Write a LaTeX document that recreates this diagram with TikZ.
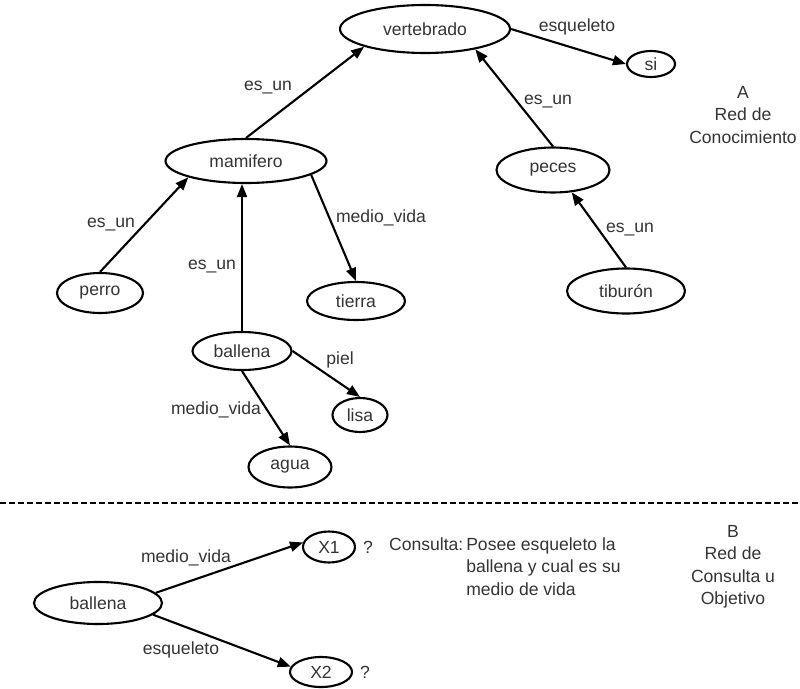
\documentclass[tikz,border=0pt]{standalone}
\usepackage{fontspec}
\setmainfont{Liberation Sans}
\usetikzlibrary{shapes.geometric, arrows.meta}

\begin{document}
\begin{tikzpicture}[
    concepto/.style={ellipse, draw, line width=1.2pt, inner sep=0pt,
                     text=black!80, font=\fontsize{10}{12.8}\selectfont},
    etiq/.style={inner sep=1pt, text=black!80, font=\fontsize{10}{12.8}\selectfont},
    arr/.style={-{Triangle[length=2.6mm, width=2mm]}, line width=1.2pt}
]
    \useasboundingbox (0, 0) rectangle (16, 13.76);

    % A: red de conocimiento
    \node[concepto, minimum width=3.4cm,  minimum height=0.96cm] (vertebrado) at (8.50, 13.18) {vertebrado};
    \node[concepto, minimum width=0.96cm, minimum height=0.52cm] (si)         at (13.02, 12.48) {si};
    \node[concepto, minimum width=3.22cm, minimum height=0.88cm] (mamifero)   at (4.92, 10.54) {mamifero};
    \node[concepto, minimum width=2.26cm, minimum height=0.9cm]  (peces)      at (11.06, 10.36) {peces};
    \node[concepto, minimum width=1.72cm, minimum height=0.8cm]  (perro)      at (2.00, 7.90) {perro};
    \node[concepto, minimum width=1.96cm, minimum height=0.76cm] (tierra)     at (7.12, 7.74) {tierra};
    \node[concepto, minimum width=2.36cm, minimum height=0.9cm]  (tiburon)    at (12.52, 7.94) {tiburón};
    \node[concepto, minimum width=1.98cm, minimum height=0.76cm] (ballena)    at (4.84, 6.74) {ballena};
    \node[concepto, minimum width=1.1cm,  minimum height=0.68cm] (lisa)       at (7.20, 5.46) {lisa};
    \node[concepto, minimum width=1.66cm, minimum height=0.82cm] (agua)       at (5.80, 4.42) {agua};

    \draw[arr] (mamifero.north)  -- (vertebrado.south west);
    \draw[arr] (vertebrado.east) -- (si.west);
    \draw[arr] (peces.north)     -- (vertebrado.-22);
    \draw[arr] (perro.north)     -- (mamifero.south west);
    \draw[arr] (ballena.north)   -- (ballena.north |- mamifero.south);
    \draw[arr] (mamifero.-12)    -- (tierra.north);
    \draw[arr] (tiburon.north)   -- (peces.-50);
    \draw[arr] (ballena.east)    -- (lisa.north);
    \draw[arr] (ballena.south)   -- (agua.north);

    \node[etiq] (l_vert)  at (5.36, 12.00) {es\_un};
    \node[etiq] (l_esq)   at (11.54, 13.22) {esqueleto};
    \node[etiq] (l_pec)   at (10.96, 11.72) {es\_un};
    \node[etiq] (l_per)   at (2.22, 9.26) {es\_un};
    \node[etiq] (l_tie)   at (7.62, 9.40) {medio\_vida};
    \node[etiq] (l_bal)   at (4.24, 8.42) {es\_un};
    \node[etiq] (l_tib)   at (12.60, 9.16) {es\_un};
    \node[etiq] (l_piel)  at (6.80, 6.56) {piel};
    \node[etiq] (l_agua)  at (4.32, 5.56) {medio\_vida};

    \node[etiq, align=center] (titulo_a) at (14.86, 11.46) {A\\Red de\\Conocimiento};

    % separacion
    \draw[line width=1.2pt, dash pattern=on 0.12cm off 0.06cm] (0, 3.70) -- (16, 3.70);

    % B: red de consulta
    \node[concepto, minimum width=2.56cm, minimum height=0.84cm] (ballena_b) at (1.96, 1.70) {ballena};
    \node[concepto, minimum width=1.04cm, minimum height=0.62cm] (x1)        at (6.58, 2.82) {X1};
    \node[concepto, minimum width=1.24cm, minimum height=0.6cm]  (x2)        at (6.42, 0.32) {X2};

    \draw[arr] (ballena_b.10)  -- (x1.170);
    \draw[arr] (ballena_b.-12) -- (x2.170);

    \node[etiq] (l_x1) at (3.72, 2.60) {medio\_vida};
    \node[etiq] (l_x2) at (3.62, 0.76) {esqueleto};
    \node[etiq] (q1)   at (7.36, 2.82) {?};
    \node[etiq] (q2)   at (7.30, 0.32) {?};

    \node[etiq, anchor=west] (consulta) at (7.74, 2.40)
        {\begin{tabular}{@{}l@{\,}l@{}}Consulta: & Posee esqueleto la\\ & ballena y cual es su\\ & medio de vida\end{tabular}};
    \node[etiq, align=center] (titulo_b) at (14.66, 2.42) {B\\Red de\\Consulta u\\Objetivo};
\end{tikzpicture}
\end{document}
